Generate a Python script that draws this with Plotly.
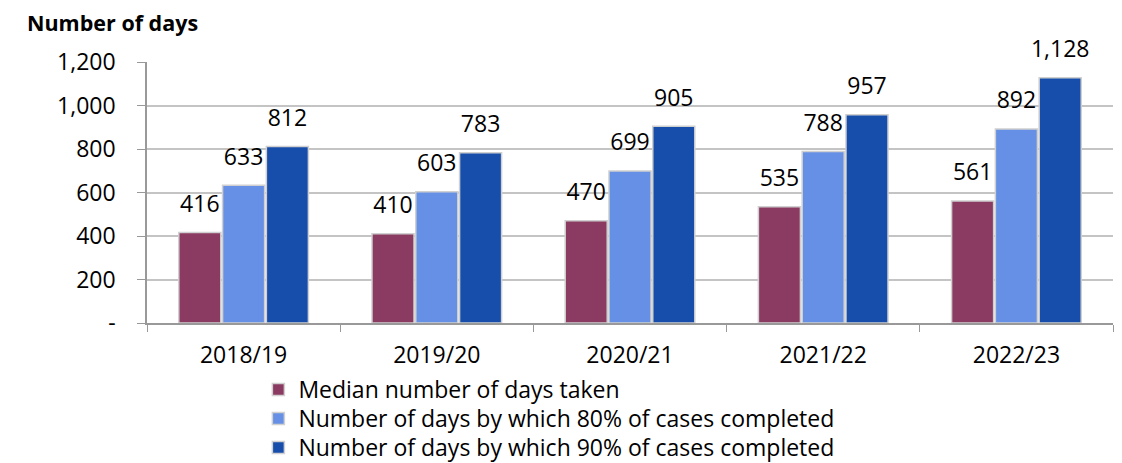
import plotly.graph_objects as go

years = ["2018/19", "2019/20", "2020/21", "2021/22", "2022/23"]
median_days = [416, 410, 470, 535, 561]
days_80 = [633, 603, 699, 788, 892]
days_90 = [812, 783, 905, 957, 1128]
series_names = [
    "Median number of days taken",
    "Number of days by which 80% of cases completed",
    "Number of days by which 90% of cases completed",
]
colors = ["#8B3A62", "#6690E6", "#174EAB"]
y_ticks = [0, 200, 400, 600, 800, 1000, 1200]
y_tick_text = ["-", "200", "400", "600", "800", "1,000", "1,200"]

FONT = "Open Sans, sans-serif"
FS = 23

legend_ids = ["legend", "legend2", "legend3"]
legend_y = [-0.2548, -0.3660, -0.4770]

fig = go.Figure()
all_vals = [median_days, days_80, days_90]
for i, (name, vals, col) in enumerate(zip(series_names, all_vals, colors)):
    fig.add_trace(go.Bar(
        x=years, y=vals, name=name, offsetgroup=str(i), legend=legend_ids[i],
        marker=dict(color=col, line=dict(color="#d0d0d0", width=1.5)),
    ))
# value labels, grouped like the bars, lifted above the bar tops
for i, vals in enumerate(all_vals):
    fig.add_trace(go.Scatter(
        x=years, y=vals, mode="markers+text", showlegend=False,
        offsetgroup=str(i), hoverinfo="skip",
        marker=dict(size=22, opacity=0, color="white"),
        text=[f"{v:,}" for v in vals], textposition="top center",
        textfont=dict(family=FONT, size=FS, color="#000"),
        cliponaxis=False,
    ))

leg_common = dict(x=0.1153, xanchor="left", yanchor="middle",
                  font=dict(family=FONT, size=FS, color="#000"),
                  bgcolor="rgba(0,0,0,0)")
fig.update_layout(
    width=1114, height=455,
    barmode="group", bargap=0.32, bargroupgap=0.04,
    scattermode="group", scattergap=0.32,
    plot_bgcolor="white", paper_bgcolor="white",
    margin=dict(l=139, r=9, t=54, b=140, autoexpand=False),
    font=dict(family=FONT, size=FS, color="#000"),
    showlegend=True,
    legend=dict(y=legend_y[0], **leg_common),
    legend2=dict(y=legend_y[1], **leg_common),
    legend3=dict(y=legend_y[2], **leg_common),
    title=dict(text="<b>Number of days</b>", xref="container", yref="container",
               x=19 / 1114, y=1 - 15 / 455, xanchor="left", yanchor="middle",
               font=dict(family=FONT, size=21.5, color="#000")),
)
fig.update_xaxes(
    type="category", showline=True, linecolor="#999", linewidth=1.5,
    ticks="outside", tickson="boundaries", ticklen=7, tickcolor="#999",
    ticklabelstandoff=11,
    tickfont=dict(family=FONT, size=FS), showgrid=False,
)
fig.update_yaxes(
    range=[0, 1200], tickvals=y_ticks, ticktext=y_tick_text,
    showline=True, linecolor="#999", linewidth=1.5,
    ticks="outside", ticklen=8, tickcolor="#999", ticklabelstandoff=17,
    showgrid=True, gridcolor="#c4c4c4", gridwidth=1.5, zeroline=False,
    tickfont=dict(family=FONT, size=FS),
)
fig.write_html("out.html")
